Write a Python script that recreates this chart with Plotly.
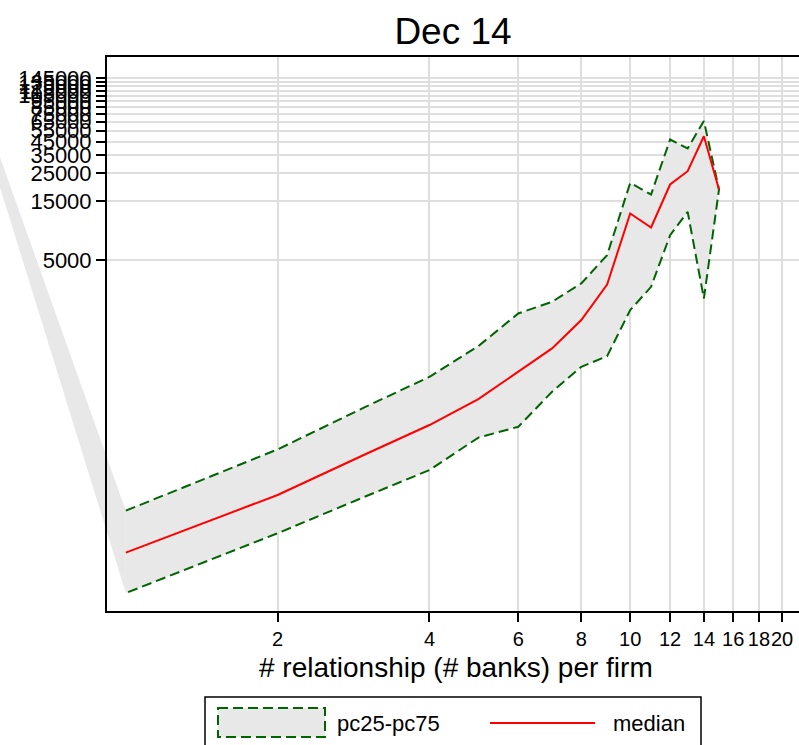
import numpy as np
import plotly.graph_objects as go

# Number of bank relationships per firm
n_banks = [1, 2, 3, 4, 5, 6, 7, 8, 9, 10, 11, 12, 13, 14, 15]

# Distribution across firms: 25th percentile, median, 75th percentile
pc25 = [10.5, 31.8, 63.4, 102.5, 187, 228.5, 437, 694, 845, 1982, 3050, 7943, 12230, 2460, 18500]
median = [22.2, 64.6, 138.7, 236, 381, 632, 975, 1648, 3177, 11870, 9160, 20300, 25970, 49630, 18500]
pc75 = [48.3, 150.3, 333, 576, 1018, 1864, 2312, 3250, 5486, 20900, 16880, 46700, 39530, 65900, 18500]

x_ticks = [2, 4, 6, 8, 10, 12, 14, 16, 18, 20]
y_ticks = list(range(5000, 145001, 10000))

title_text = "Dec 14"
x_title = "# relationship (# banks) per firm"
band_label = "pc25-pc75"
median_label = "median"

FONT = "Liberation Sans, Arial, sans-serif"
GREEN = "#006400"
FILL = "#e8e8e8"
GRID = "#dedede"

W, H = 799, 745
ML, MR, MT, MB = 107, 0, 57, 134
PW, PH = W - ML - MR, H - MT - MB

x_range = [-0.0373, 1.3347]
y_range = [0.877, 5.333]


def px_to_paper(px, py):
    return (px - ML) / PW, (H - MB - py) / PH


def data_to_paper(x, y):
    xp = (np.log10(x) - x_range[0]) / (x_range[1] - x_range[0])
    yp = (np.log10(y) - y_range[0]) / (y_range[1] - y_range[0])
    return xp, yp


fig = go.Figure()

# interquartile band, outlined with a dashed line
fig.add_trace(go.Scatter(
    x=n_banks + n_banks[::-1],
    y=pc75 + pc25[::-1],
    mode="lines",
    fill="toself",
    fillcolor=FILL,
    line=dict(color=GREEN, width=2, dash="10px,5px"),
    name=band_label,
    hoverinfo="skip",
))

fig.add_trace(go.Scatter(
    x=n_banks, y=median, mode="lines",
    line=dict(color="red", width=2),
    name=median_label,
))

shapes = []

# stray fill wedge running off the left edge from the first band segment
ux, uy = data_to_paper(n_banks[0], pc75[0])
lx, ly = data_to_paper(n_banks[0], pc25[0])
ax_, ay_ = px_to_paper(-72, -45)
shapes.append(dict(
    type="path", xref="paper", yref="paper", layer="below",
    path=f"M {ux},{uy} L {lx},{ly} L {ax_},{ay_} Z",
    fillcolor=FILL, line=dict(width=0),
))

# legend frame and keys
x0, y0 = px_to_paper(205, 697)
x1, y1 = px_to_paper(701, 770)
shapes.append(dict(type="rect", xref="paper", yref="paper",
                   x0=x0, y0=y0, x1=x1, y1=y1,
                   line=dict(color="black", width=1.5), fillcolor="white"))
kx0, ky0 = px_to_paper(218, 708)
kx1, ky1 = px_to_paper(325, 737)
shapes.append(dict(type="rect", xref="paper", yref="paper",
                   x0=kx0, y0=ky0, x1=kx1, y1=ky1,
                   line=dict(color=GREEN, width=2, dash="10px,5px"), fillcolor=FILL))
rx0, ry = px_to_paper(490, 723)
rx1, _ = px_to_paper(595, 723)
shapes.append(dict(type="line", xref="paper", yref="paper",
                   x0=rx0, y0=ry, x1=rx1, y1=ry,
                   line=dict(color="red", width=2)))

annotations = []
tx, ty = px_to_paper(335, 723)
annotations.append(dict(text=band_label, xref="paper", yref="paper", x=tx, y=ty,
                        xanchor="left", yanchor="middle", showarrow=False,
                        font=dict(family=FONT, size=22, color="black")))
tx, ty = px_to_paper(611, 723)
annotations.append(dict(text=median_label, xref="paper", yref="paper", x=tx, y=ty,
                        xanchor="left", yanchor="middle", showarrow=False,
                        font=dict(family=FONT, size=22, color="black")))
tx, ty = px_to_paper(456, 667)
annotations.append(dict(text=x_title, xref="paper", yref="paper", x=tx, y=ty,
                        xanchor="center", yanchor="middle", showarrow=False,
                        font=dict(family=FONT, size=28, color="black")))

fig.update_layout(
    width=W, height=H,
    margin=dict(l=ML, r=MR, t=MT, b=MB, autoexpand=False),
    paper_bgcolor="white",
    plot_bgcolor="rgba(0,0,0,0)",
    showlegend=False,
    title=dict(text=title_text, x=0.5, xref="paper", xanchor="center",
               y=1 - 31 / H, yref="container", yanchor="middle",
               font=dict(family=FONT, size=37, color="black")),
    font=dict(family=FONT, color="black"),
    shapes=shapes,
    annotations=annotations,
)

fig.update_xaxes(
    type="log", range=x_range,
    tickmode="array", tickvals=x_ticks, ticktext=[str(v) for v in x_ticks],
    tickangle=0,
    ticks="outside", ticklen=9, tickwidth=1.5, tickcolor="black",
    tickfont=dict(family=FONT, size=20, color="black"),
    showgrid=True, gridcolor=GRID, gridwidth=2,
    showline=True, linecolor="black", linewidth=2, mirror=True,
    zeroline=False,
)
fig.update_yaxes(
    type="log", range=y_range,
    tickmode="array", tickvals=y_ticks, ticktext=[str(v) for v in y_ticks],
    ticks="outside", ticklen=9, tickwidth=1.5, tickcolor="black",
    tickfont=dict(family=FONT, size=22, color="black"),
    showgrid=True, gridcolor=GRID, gridwidth=2,
    showline=True, linecolor="black", linewidth=2, mirror=False,
    zeroline=False,
)

fig.write_html("out.html")
